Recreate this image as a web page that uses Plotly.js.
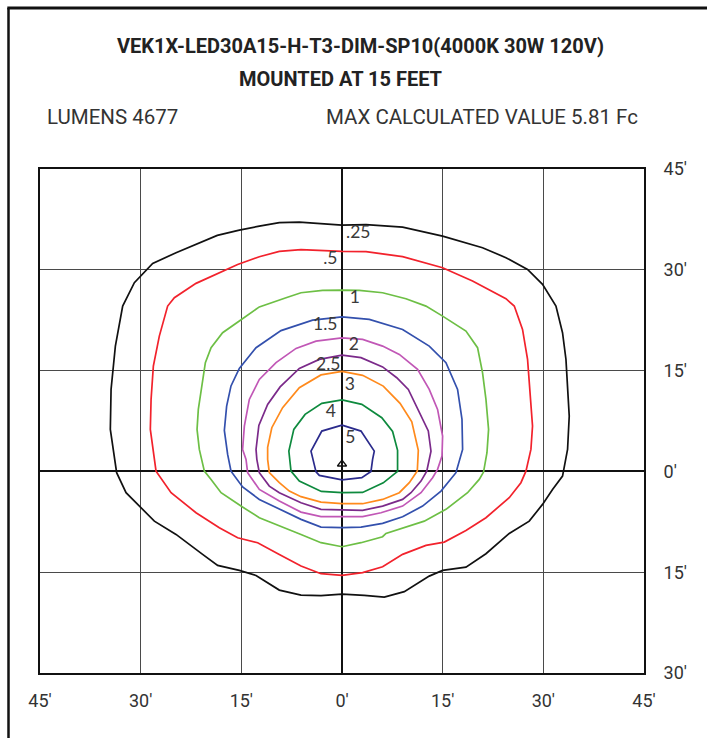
<!DOCTYPE html>
<html>
<head>
<meta charset="utf-8">
<script src="https://cdn.plot.ly/plotly-3.0.1.min.js"></script>
<style>
  html, body { margin: 0; padding: 0; background: #ffffff; }
  #chart { width: 707px; height: 738px; }
</style>
</head>
<body>
<div id="chart"></div>
<script>
// ---- Data (feet) ----
const levels = [".25", ".5", "1", "1.5", "2", "2.5", "3", "4", "5"];

const c025x = [0,3.58,9.03,14.99,20.94,24.43,27.65,29.88,31.88,32.86,33.37,33.61,33.86,33.61,32.86,31.37,29.88,27.90,24.92,21.45,18.47,14.99,13.00,9.28,6.30,3.32,0,-3.13,-6.11,-9.34,-12.81,-15.30,-18.53,-20.77,-24.73,-27.96,-30.20,-32.18,-33.58,-34.52,-34.41,-33.77,-32.68,-30.94,-28.21,-24.73,-18.58,-15.30,-12.32,-9.34,-6.36,0];
const c025y = [36.65,36.71,36.35,35.01,33.29,31.80,30.06,27.83,24.60,20.64,16.67,12.20,8.23,3.27,-0.70,-2.68,-4.91,-7.40,-9.23,-12.25,-14.24,-14.73,-15.58,-17.90,-18.71,-18.45,-18.26,-18.50,-18.41,-17.66,-15.48,-14.73,-13.99,-12.35,-9.38,-7.40,-5.16,-3.17,-0.19,6.25,12.20,18.65,24.60,28.08,30.95,32.54,35.12,35.91,36.50,37.01,37.10,36.65];

const c05x = [0,3.58,9.03,14.99,19.45,24.43,25.67,26.90,27.65,28.01,28.39,28.15,27.41,26.66,24.92,21.45,18.47,15.24,12.51,9.03,6.05,3.07,0,-3.13,-6.11,-9.34,-12.57,-15.55,-18.28,-21.75,-25.47,-27.71,-28.21,-28.56,-28.45,-28.11,-27.22,-25.98,-24.98,-21.75,-15.55,-12.32,-9.34,-6.11,0];
const c05y = [32.74,32.69,31.95,30.31,28.32,25.70,24.60,21.13,16.67,11.71,6.74,3.27,0.04,-1.68,-3.91,-6.89,-8.78,-10.52,-11.01,-12.35,-14.18,-15.07,-15.48,-15.22,-14.09,-12.35,-10.61,-9.87,-8.38,-6.15,-3.17,0.04,3.27,6.25,10.71,15.67,20.13,24.60,25.85,27.98,30.80,31.95,32.74,32.99,32.74];

const c1x = [0,2.58,6.05,9.53,12.51,14.99,18.47,20.20,20.94,21.45,21.84,21.60,21.09,20.45,18.71,15.49,12.26,9.53,6.55,6.05,2.83,0,-3.13,-6.11,-9.34,-12.32,-15.05,-18.02,-19.51,-20.51,-21.26,-21.60,-21.41,-21.00,-20.36,-19.51,-17.79,-15.30,-12.32,-8.34,-6.11,-2.89,0];
const c1y = [26.98,26.93,26.59,25.70,24.60,23.11,20.88,18.41,14.69,10.71,6.25,2.78,-0.10,-1.19,-3.17,-5.65,-7.40,-8.29,-9.23,-9.72,-10.61,-11.21,-10.61,-9.38,-8.14,-6.89,-5.16,-3.17,-1.19,0.04,3.27,6.25,9.23,12.20,16.18,18.41,20.64,22.37,24.48,25.85,26.59,26.93,26.98];

const c15x = [0,4.07,9.03,13.00,15.49,17.22,17.88,17.97,16.98,14.75,12.01,9.03,6.05,2.83,0,-3.13,-6.11,-9.34,-12.32,-14.81,-16.54,-17.04,-17.53,-17.19,-16.54,-15.30,-12.81,-9.09,-4.38,0];
const c15y = [22.99,22.62,21.13,18.65,16.18,12.20,7.74,3.27,-0.19,-2.93,-5.16,-6.74,-7.74,-8.29,-8.38,-8.29,-7.14,-5.65,-4.17,-2.31,0.04,2.53,6.10,9.72,12.72,15.33,18.41,20.95,22.50,22.99];

const c2x = [0,3.07,6.05,8.54,11.26,13.00,14.24,14.99,14.90,14.24,13.50,11.77,9.03,5.81,3.07,0,-3.13,-6.11,-9.34,-12.32,-14.06,-14.30,-14.81,-14.55,-13.81,-12.32,-9.83,-6.85,-3.87,0];
const c2y = [19.87,19.64,18.65,17.41,15.18,12.20,9.23,5.25,2.28,0.30,-0.94,-3.17,-5.16,-6.15,-6.74,-6.74,-6.74,-6.06,-4.42,-2.68,-0.19,1.79,3.27,6.74,10.71,13.69,16.18,18.30,19.39,19.87];

const c25x = [0,2.83,6.05,8.16,9.88,11.37,12.86,13.26,12.63,11.77,10.28,9.03,6.05,3.07,0,-3.13,-6.11,-9.34,-10.83,-12.32,-12.69,-12.81,-12.39,-11.08,-9.22,-6.36,-3.38,0];
const c25y = [17.31,16.92,15.55,13.94,12.20,9.23,6.03,3.02,0.04,-1.44,-3.17,-4.17,-5.16,-5.80,-5.76,-5.65,-4.66,-3.17,-2.19,-0.19,1.79,3.27,6.85,9.97,12.57,15.33,16.67,17.31];

const c3x = [0,3.07,6.15,8.65,10.40,11.37,11.22,10.03,8.54,6.05,3.07,0,-3.13,-6.11,-7.85,-9.34,-10.83,-11.08,-11.08,-10.46,-8.85,-6.36,-3.13,0];
const c3y = [14.88,14.29,12.69,10.12,7.37,3.13,0.07,-1.68,-3.17,-4.17,-4.81,-4.81,-4.57,-3.76,-2.93,-1.68,-0.19,1.79,3.57,6.50,9.48,12.46,14.36,14.88];

const c4x = [0,2.95,5.93,7.54,8.28,8.28,6.15,3.07,0,-3.08,-6.36,-7.60,-7.92,-7.18,-5.50,-3.01,0];
const c4y = [10.64,9.97,7.99,5.95,3.13,0,-1.71,-3.13,-3.17,-2.98,-1.44,0.04,3.02,6.25,8.48,10.12,10.64];

const c5x = [0,2.83,4.81,4.56,4.32,2.95,0,-3.38,-3.87,-4.62,-3.01,0];
const c5y = [6.88,6.00,3.02,1.79,0,-0.94,-1.26,-0.60,-0.07,3.02,6.00,6.88];

// contour value labels
const labelX = [2.43, -1.74, 1.9, -2.49, 1.76, -2.04, 1.16, -1.67, 1.24];
const labelY = [35.4, 31.5, 25.7, 21.7, 18.75, 15.8, 12.8, 8.78, 4.91];

// luminaire location
const lumX = [0];
const lumY = [1.1];

// axis ticks
const xTickVals = [-45, -30, -15, 0, 15, 30, 45];
const xTickText = ["45\u2032", "30\u2032", "15\u2032", "0\u2032", "15\u2032", "30\u2032", "45\u2032"];
const yTickVals = [-30, -15, 0, 15, 30, 45];
const yTickText = ["30\u2032", "15\u2032", "0\u2032", "15\u2032", "30\u2032", "45\u2032"];

// ---- Styling ----
const xs = [c025x, c05x, c1x, c15x, c2x, c25x, c3x, c4x, c5x];
const ys = [c025y, c05y, c1y, c15y, c2y, c25y, c3y, c4y, c5y];
const colors = ["#111111", "#f2222c", "#6dbf45", "#3350ad", "#c157b6", "#7b2a8a", "#ff8a1c", "#0e8a3e", "#2b2b8c"];

const traces = xs.map((x, i) => ({
  type: "scatter", mode: "lines", x: x, y: ys[i],
  line: { color: colors[i], width: 1.7 },
  hoverinfo: "skip", showlegend: false
}));

traces.push({
  type: "scatter", mode: "text", x: labelX, y: labelY, text: levels,
  textfont: { family: "Lato, 'Open Sans', sans-serif", size: 17.5, color: "#3a3a3a" },
  hoverinfo: "skip", showlegend: false
});

traces.push({
  type: "scatter", mode: "markers", x: lumX, y: lumY,
  marker: { symbol: "triangle-up-open", size: 8, color: "#111", line: { width: 1.3, color: "#111" } },
  hoverinfo: "skip", showlegend: false
});

const L = 40, R = 63, T = 169, B = 65;
const PW = 707 - L - R, PH = 738 - T - B;
const px = v => (v - L) / PW;
const py = v => (738 - B - v) / PH;

const tickFont = { family: "Roboto, sans-serif", size: 18, color: "#333" };

const layout = {
  width: 707, height: 738,
  margin: { l: L, r: R, t: T, b: B, pad: 0 },
  paper_bgcolor: "#ffffff", plot_bgcolor: "#ffffff",
  showlegend: false,
  xaxis: {
    range: [-45, 45], tickvals: xTickVals, ticktext: xTickText,
    showgrid: true, gridcolor: "#4a4a4a", gridwidth: 1.4,
    zeroline: true, zerolinecolor: "#111", zerolinewidth: 2,
    showline: true, mirror: true, linecolor: "#111", linewidth: 2,
    ticks: "", ticklabelstandoff: 10, tickfont: tickFont, fixedrange: true
  },
  yaxis: {
    range: [-30, 45], tickvals: yTickVals, ticktext: yTickText, side: "right",
    showgrid: true, gridcolor: "#4a4a4a", gridwidth: 1.4,
    zeroline: true, zerolinecolor: "#111", zerolinewidth: 2,
    showline: true, mirror: true, linecolor: "#111", linewidth: 2,
    ticks: "", ticklabelstandoff: 14, tickfont: tickFont, fixedrange: true
  },
  annotations: [
    { text: "<b>VEK1X-LED30A15-H-T3-DIM-SP10(4000K 30W 120V)</b>", xref: "paper", yref: "paper",
      x: px(360), y: py(46), xanchor: "center", yanchor: "middle", showarrow: false,
      font: { family: "Roboto, sans-serif", size: 20, color: "#222" } },
    { text: "<b>MOUNTED AT 15 FEET</b>", xref: "paper", yref: "paper",
      x: px(340), y: py(79), xanchor: "center", yanchor: "middle", showarrow: false,
      font: { family: "Roboto, sans-serif", size: 20, color: "#222" } },
    { text: "LUMENS 4677", xref: "paper", yref: "paper",
      x: px(45), y: py(117), xanchor: "left", yanchor: "middle", showarrow: false,
      font: { family: "Roboto, sans-serif", size: 20.5, color: "#333" } },
    { text: "MAX CALCULATED VALUE 5.81 Fc", xref: "paper", yref: "paper",
      x: px(640), y: py(117), xanchor: "right", yanchor: "middle", showarrow: false,
      font: { family: "Roboto, sans-serif", size: 20.5, color: "#333" } }
  ],
  shapes: [
    { type: "line", xref: "paper", yref: "paper", x0: px(8.5), x1: px(8.5), y0: py(8), y1: py(745),
      line: { color: "#111", width: 2.5 } },
    { type: "line", xref: "paper", yref: "paper", x0: px(7.3), x1: px(715), y0: py(8), y1: py(8),
      line: { color: "#111", width: 3 } }
  ]
};

Plotly.newPlot("chart", traces, layout, { staticPlot: true, displayModeBar: false });
</script>
</body>
</html>
